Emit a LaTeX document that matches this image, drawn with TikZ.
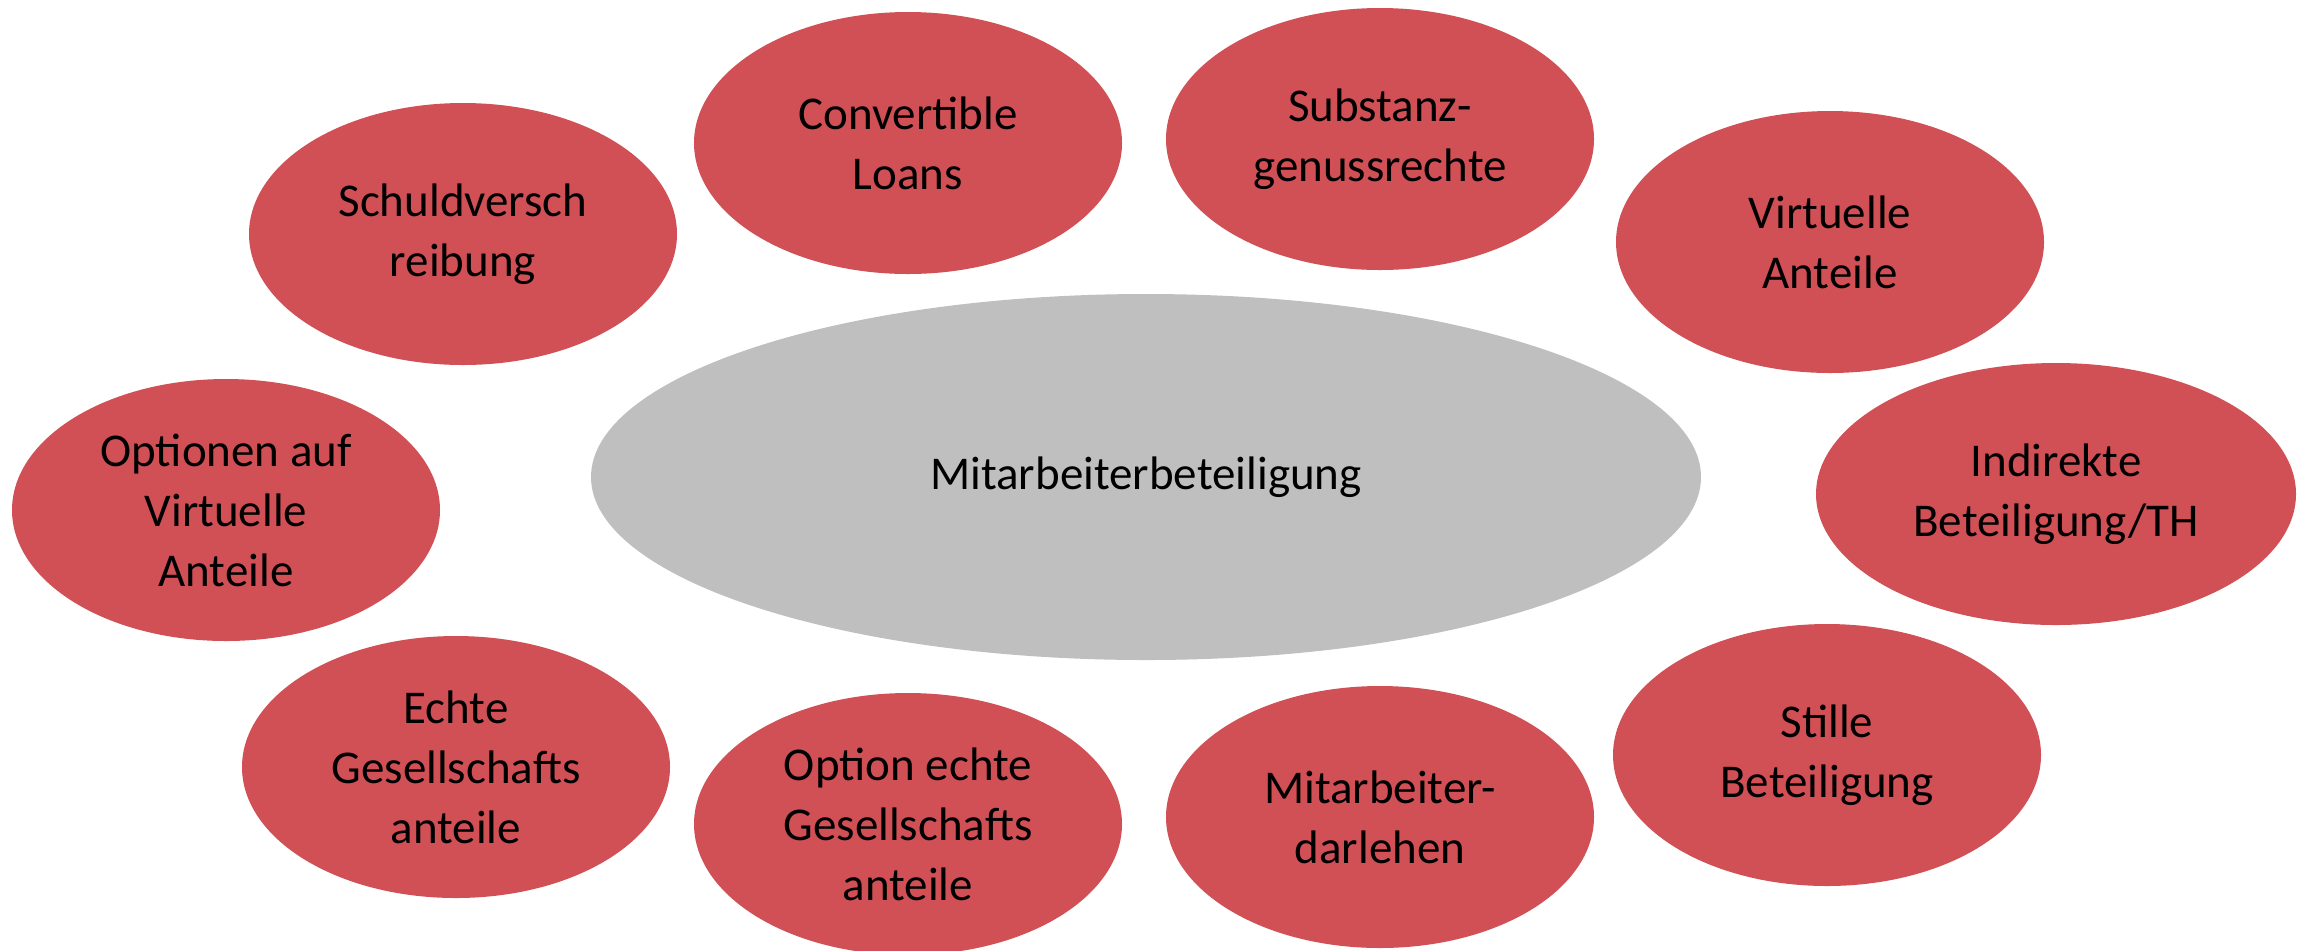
\documentclass[tikz,border=0pt]{standalone}
\usepackage{fontspec}
\setmainfont{Carlito}
\usetikzlibrary{shapes.geometric}
\definecolor{formred}{HTML}{D05055}
\definecolor{kerngrey}{HTML}{BFBFBF}
\begin{document}
\begin{tikzpicture}[x=0.5pt,y=-0.5pt,
    form/.style={ellipse,fill=formred,minimum width=214pt,minimum height=131pt,
      inner sep=0pt,align=center,font=\fontsize{23.5}{30}\selectfont},
    kern/.style={ellipse,fill=kerngrey,minimum width=555pt,minimum height=183pt,
      inner sep=0pt,font=\fontsize{23.5}{30}\selectfont}]
  \useasboundingbox (0,0) rectangle (2302,950);

  \node[kern] (kern) at (1146,477) {Mitarbeiterbeteiligung};

  \foreach \n/\x/\y/\t in {schuld/463/234/{Schuldversch\\reibung},
      convert/908/143/{Convertible\\Loans},
      substanz/1380/139/{Substanz-\\genussrechte},
      virtuell/1830/242/{Virtuelle\\Anteile},
      still/1827/755/{Stille\\Beteiligung},
      darlehen/1380/817/{Mitarbeiter-\\darlehen},
      optecht/908/824/{Option echte\\Gesellschafts\\anteile},
      echt/456/767/{Echte\\Gesellschafts\\anteile},
      optvirt/226/510/{Optionen auf\\Virtuelle\\Anteile}}
    \node[form] (\n) at (\x,\y) {\t};

  \node[form,minimum width=240pt] (indirekt) at (2056,494) {Indirekte\\Beteiligung/TH};
\end{tikzpicture}
\end{document}
